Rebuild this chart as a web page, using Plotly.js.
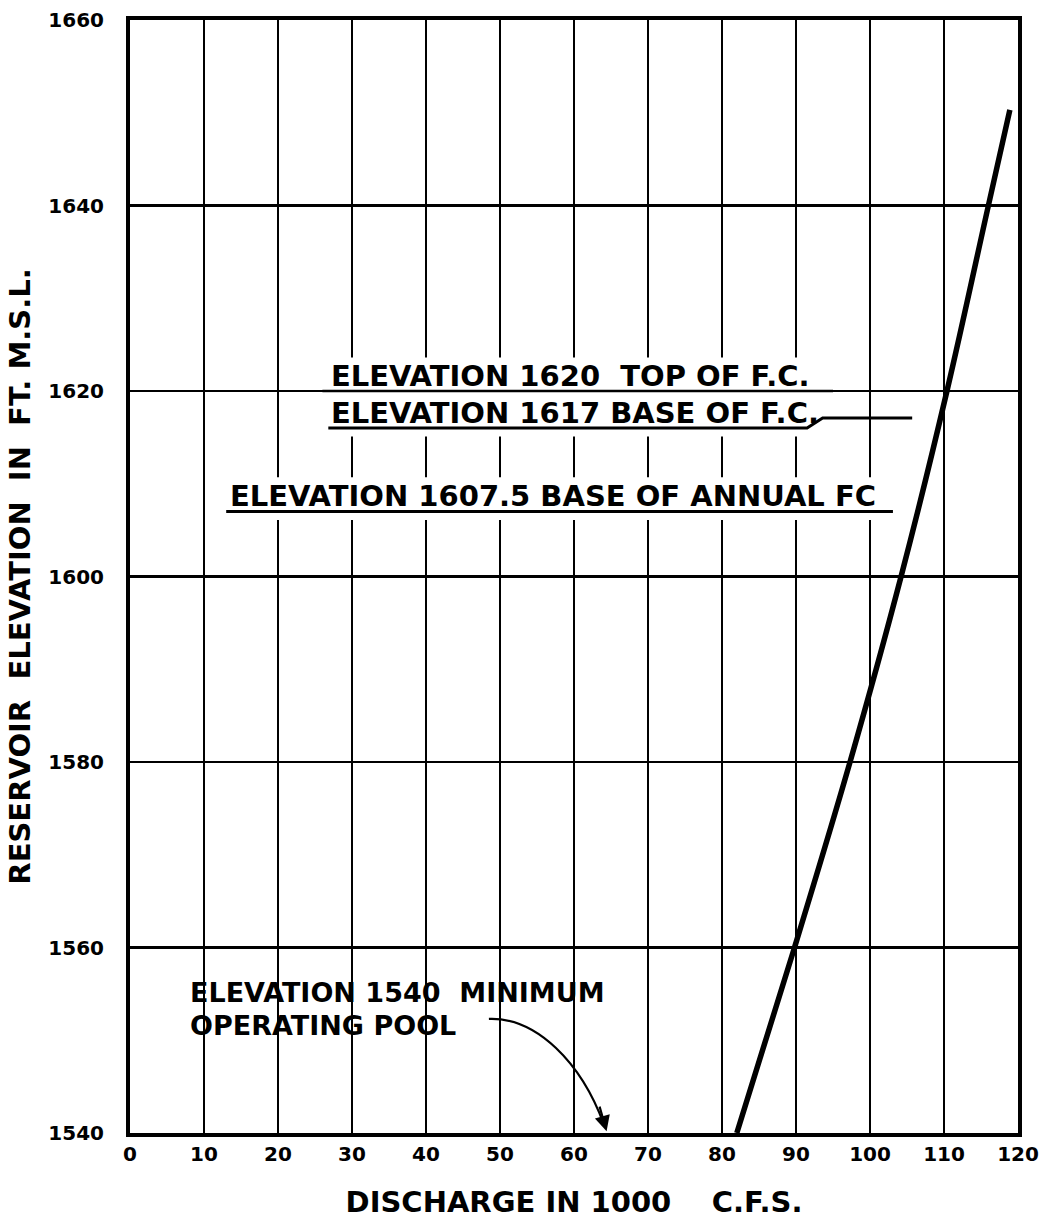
<!DOCTYPE html>
<html>
<head>
<meta charset="utf-8">
<script src="https://cdn.plot.ly/plotly-3.0.1.min.js"></script>
<style>html,body{margin:0;padding:0;background:#fff;}#chart{width:1044px;height:1226px;}</style>
</head>
<body>
<div id="chart"></div>
<script>
// Rating curve: discharge (1000 cfs) vs reservoir elevation (ft MSL)
const dischargeK = [82.0, 89.8, 97.3, 104.2, 110.4, 116.0, 118.9];
const elevation  = [1540, 1560, 1580, 1600, 1620, 1640, 1650.3];

const xTicks = [0, 10, 20, 30, 40, 50, 60, 70, 80, 90, 100, 110, 120];
const yTicks = [1540, 1560, 1580, 1600, 1620, 1640, 1660];

const labelTop = "ELEVATION 1620\u00A0 TOP OF F.C.";
const labelBase = "ELEVATION 1617 BASE OF F.C.";
const labelAnnual = "ELEVATION 1607.5 BASE OF ANNUAL FC";
const labelMin1 = "ELEVATION 1540\u00A0 MINIMUM";
const labelMin2 = "OPERATING POOL";

const F = "DejaVu Sans, Arial, sans-serif";
const annFont = {family: F, size: 29, color: "#000", weight: "bold"};
const minFont = {family: F, size: 27, color: "#000", weight: "bold"};

const trace = {
  x: dischargeK, y: elevation, type: "scatter", mode: "lines",
  line: {color: "#000", width: 5.5, shape: "spline", smoothing: 1},
  hoverinfo: "skip", showlegend: false
};

const layout = {
  width: 1044, height: 1226,
  margin: {l: 130, r: 26, t: 20, b: 93},
  paper_bgcolor: "#fff", plot_bgcolor: "#fff",
  showlegend: false,
  font: {family: F, color: "#000"},
  xaxis: {
    range: [0, 120], tickmode: "array", tickvals: xTicks, ticktext: xTicks.map(String),
    showgrid: true, gridcolor: "#000", gridwidth: 2.7, zeroline: false,
    showline: true, mirror: true, linecolor: "#000", linewidth: 4,
    ticks: "", ticklabelstandoff: 0,
    tickfont: {family: F, size: 20, color: "#000", weight: "bold"},
    title: {text: "DISCHARGE IN 1000\u00A0\u00A0\u00A0 C.F.S.", standoff: 28,
            font: {family: F, size: 29, color: "#000", weight: "bold"}}
  },
  yaxis: {
    range: [1540, 1660], tickmode: "array", tickvals: yTicks, ticktext: yTicks.map(String),
    showgrid: true, gridcolor: "#000", gridwidth: 2.7, zeroline: false,
    showline: true, mirror: true, linecolor: "#000", linewidth: 4,
    ticks: "", ticklabelstandoff: 18,
    tickfont: {family: F, size: 20, color: "#000", weight: "bold"},
    title: {text: "RESERVOIR\u00A0 ELEVATION\u00A0 IN\u00A0 FT. M.S.L.", standoff: 10,
            font: {family: F, size: 29, color: "#000", weight: "bold"}}
  },
  shapes: [
    // white masks that interrupt the vertical grid behind the labels
    {type: "rect", xref: "x", yref: "y", x0: 26.3, x1: 94.6, y0: 1615.1, y1: 1623.6,
     fillcolor: "#fff", line: {width: 0}, layer: "between"},
    {type: "rect", xref: "x", yref: "y", x0: 12.9, x1: 103.1, y0: 1606.1, y1: 1610.7,
     fillcolor: "#fff", line: {width: 0}, layer: "between"},
    // 1620 line restored across the masked band
    {type: "line", xref: "x", yref: "y", x0: 26.0, x1: 95, y0: 1620, y1: 1620,
     line: {color: "#000", width: 2.7}, layer: "between"},
    // 1617 underline with jog
    {type: "path", xref: "x", yref: "y",
     path: "M 26.8 1616.0 L 91.5 1616.0 L 93.6 1617.1 L 105.7 1617.1",
     line: {color: "#000", width: 3}, layer: "between"},
    // 1607.5 underline
    {type: "line", xref: "x", yref: "y", x0: 13.0, x1: 103.1, y0: 1607.0, y1: 1607.0,
     line: {color: "#000", width: 3}, layer: "between"},
    // leader curve to minimum pool
    {type: "path", xref: "x", yref: "y",
     path: "M 48.5 1552.3 C 55 1552.5, 61 1547.5, 64.0 1541.0",
     line: {color: "#000", width: 2.2}, layer: "above"}
  ],
  annotations: [
    {text: labelTop, x: 27.0, y: 1621.6, xref: "x", yref: "y", xanchor: "left", yanchor: "middle",
     showarrow: false, font: annFont, borderpad: 0},
    {text: labelBase, x: 27.0, y: 1617.6, xref: "x", yref: "y", xanchor: "left", yanchor: "middle",
     showarrow: false, font: annFont, borderpad: 0},
    {text: labelAnnual, x: 13.4, y: 1608.7, xref: "x", yref: "y", xanchor: "left", yanchor: "middle",
     showarrow: false, font: annFont, borderpad: 0},
    {text: labelMin1, x: 8.0, y: 1555.1, xref: "x", yref: "y", xanchor: "left", yanchor: "middle",
     showarrow: false, font: minFont, borderpad: 0},
    {text: labelMin2, x: 8.0, y: 1551.6, xref: "x", yref: "y", xanchor: "left", yanchor: "middle",
     showarrow: false, font: minFont, borderpad: 0},
    {text: "", x: 64.4, y: 1540.2, xref: "x", yref: "y", axref: "x", ayref: "y",
     ax: 63.4, ay: 1543.0, showarrow: true, arrowhead: 2, arrowsize: 1.4, arrowwidth: 2.2,
     arrowcolor: "#000"}
  ]
};

Plotly.newPlot("chart", [trace], layout, {displayModeBar: false, staticPlot: true});
</script>
</body>
</html>
